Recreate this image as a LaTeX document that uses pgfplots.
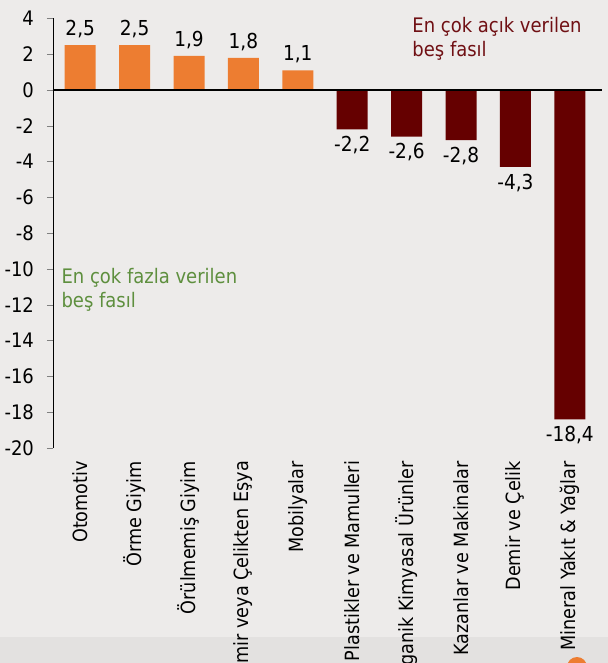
\documentclass[border=0pt]{standalone}
\usepackage{fontspec}
\setmainfont{DejaVu Sans Condensed}
\usepackage{pgfplots}
\pgfplotsset{compat=1.18}

\definecolor{bg}{HTML}{EDEBEA}
\definecolor{band}{HTML}{E3E1E0}
\definecolor{barorange}{HTML}{ED7D31}
\definecolor{barred}{HTML}{650000}
\definecolor{txtred}{HTML}{701014}
\definecolor{txtgreen}{HTML}{5E8F3E}

\begin{document}
\begin{tikzpicture}[font=\fontsize{9.5}{12}\selectfont]
\path[use as bounding box] (-26.5pt,-107.5pt) rectangle (277.5pt,224pt);
\fill[bg] (-26.5pt,-107.5pt) rectangle (277.5pt,224pt);
\fill[band] (-26.5pt,-107.5pt) rectangle (277.5pt,-94.5pt);
\clip (-26.5pt,-107.5pt) rectangle (277.5pt,224pt);
\begin{axis}[
    at={(0,0)}, anchor=south west,
    scale only axis,
    width=272pt, height=214.8pt,
    xmin=-0.5, xmax=9.5,
    ymin=-20, ymax=4,
    ytick={-20,-18,...,4},
    xtick={0,...,9},
    xticklabels={Otomotiv, Örme Giyim, Örülmemiş Giyim, Demir veya Çelikten Eşya, Mobilyalar, Plastikler ve Mamulleri, Organik Kimyasal Ürünler, Kazanlar ve Makinalar, Demir ve Çelik, Mineral Yakıt \& Yağlar},
    xticklabel style={rotate=90, anchor=east, font=\fontsize{9.8}{12}\selectfont},
    yticklabel style={font=\fontsize{10}{12}\selectfont, xshift=-3pt},
    axis x line*=bottom,
    axis y line*=left,
    x axis line style={draw=none},
    major x tick style={draw=none},
    ytick align=outside,
    major tick length=3pt,
    /pgf/number format/assume math mode=true,
    clip=false,
    ybar, bar width=15.5pt, bar shift=0pt,
    nodes near coords,
    nodes near coords align={vertical},
    every node near coord/.append style={font=\fontsize{10.3}{12}\selectfont, black,
        /pgf/number format/fixed, /pgf/number format/fixed zerofill,
        /pgf/number format/precision=1, /pgf/number format/use comma},
]
\addplot[draw=none, fill=barorange] coordinates {(0,2.5) (1,2.5) (2,1.9) (3,1.8) (4,1.1)};
\addplot[draw=none, fill=barred] coordinates {(5,-2.2) (6,-2.6) (7,-2.8) (8,-4.3) (9,-18.4)};
\draw[black, line width=1pt] (axis cs:-0.5,0) -- (axis cs:9.6,0);
\node[anchor=north west, align=left, inner sep=0pt, text=txtred, font=\fontsize{10}{12}\selectfont] at (axis cs:6.1,4.1) {En çok açık verilen\\beş fasıl};
\node[anchor=north west, align=left, inner sep=0pt, text=txtgreen, font=\fontsize{10}{12}\selectfont] at (axis cs:-0.35,-9.95) {En çok fazla verilen\\beş fasıl};
\end{axis}
\fill[barorange] (262pt,-109.5pt) circle (5pt);
\end{tikzpicture}
\end{document}
